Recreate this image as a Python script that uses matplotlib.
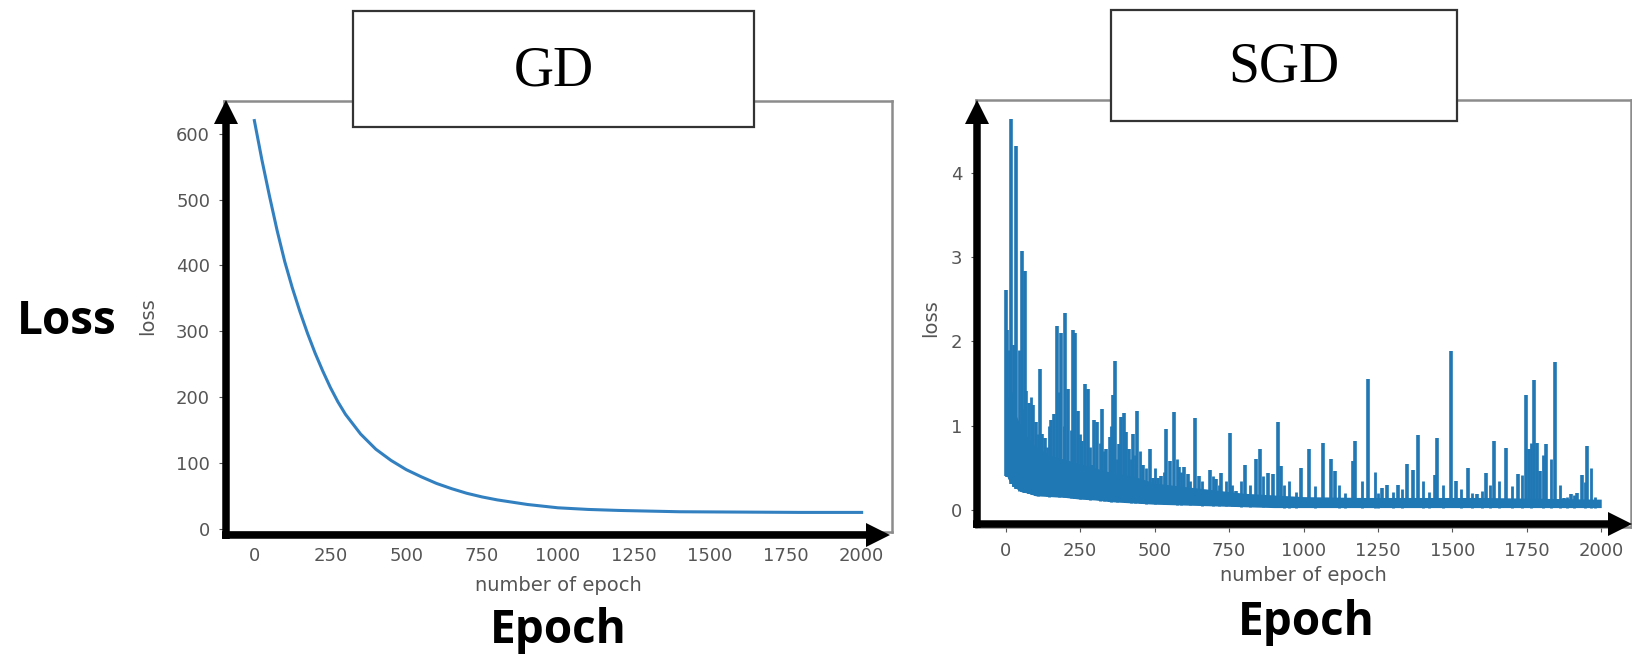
import numpy as np
import matplotlib.pyplot as plt
from matplotlib.patches import FancyArrow, Rectangle

# full-batch gradient descent loss
gd_epochs = [0, 25, 50, 75, 100, 125, 150, 175, 200, 225, 250, 275, 300, 350,
             400, 450, 500, 550, 600, 650, 700, 750, 800, 900, 1000, 1100, 1200,
             1300, 1400, 1600, 1800, 2000]
gd_loss = [620, 560, 505, 453, 406, 366, 330, 297, 267, 240, 215, 193, 174, 144,
           121, 104, 90, 79, 69, 61, 54, 48.5, 44, 37, 32, 29.5, 28,
           27, 26, 25.5, 25, 25]

# stochastic gradient descent: dense noisy band ...
sgd_band_epochs = [0, 25, 50, 75, 100, 150, 200, 250, 300, 350, 400, 450, 500,
                   600, 700, 800, 900, 1000, 1200, 1400, 1600, 1800, 2000]
sgd_band_low = [0.42, 0.28, 0.22, 0.2, 0.17, 0.16, 0.15, 0.13, 0.12, 0.1, 0.09,
                0.08, 0.07, 0.06, 0.05, 0.04, 0.03, 0.03, 0.03, 0.03, 0.03, 0.03, 0.03]
sgd_band_high = [1.4, 1.2, 1.0, 0.85, 0.75, 0.65, 0.6, 0.55, 0.5, 0.45, 0.42,
                 0.38, 0.32, 0.28, 0.24, 0.2, 0.18, 0.16, 0.15, 0.15, 0.15, 0.14, 0.13]

# ... the big spikes sticking out of it
sgd_spike_epochs = [2, 5, 19, 28, 36, 54, 64, 69, 78, 91, 100, 114, 123, 133, 153, 162,
                    173, 187, 200, 209, 226, 234, 242, 257, 267, 276, 288, 296, 308,
                    323, 338, 349, 360, 366, 379, 388, 396, 405, 413, 427, 442, 460,
                    483, 494, 510, 522, 539, 550, 564, 581, 597, 611, 636, 648, 685,
                    705, 724, 752, 774, 804, 841, 855, 880, 897, 913, 925, 993, 1017,
                    1067, 1094, 1107, 1165, 1174, 1218, 1265, 1282, 1316, 1349, 1369,
                    1386, 1440, 1450, 1497, 1513, 1554, 1584, 1613, 1641, 1681, 1722,
                    1748, 1758, 1775, 1785, 1795, 1815, 1846, 1876, 1899, 1920, 1936, 1953]
sgd_spike_loss = [2.61, 2.14, 4.63, 1.96, 4.31, 3.07, 2.83, 1.41, 1.27, 1.25, 1.05, 1.67,
                  0.9, 0.85, 1.07, 1.14, 2.18, 2.1, 2.33, 1.43, 2.13, 2.1, 1.17, 0.82,
                  1.5, 1.44, 0.54, 1.07, 1.05, 1.2, 0.73, 0.87, 1.37, 1.77, 0.78, 1.1,
                  1.15, 0.93, 0.73, 0.9, 1.18, 0.54, 0.72, 0.38, 0.38, 0.4, 0.96, 0.58,
                  1.16, 0.51, 0.51, 0.43, 1.09, 0.4, 0.48, 0.37, 0.44, 0.91, 0.23, 0.54,
                  0.61, 0.72, 0.44, 0.43, 1.05, 0.52, 0.5, 0.73, 0.79, 0.6, 0.46, 0.58,
                  0.82, 1.55, 0.26, 0.3, 0.3, 0.55, 0.48, 0.89, 0.42, 0.86, 1.88, 0.34,
                  0.5, 0.19, 0.44, 0.82, 0.74, 0.43, 1.36, 0.72, 1.54, 0.79, 0.46, 0.78,
                  1.76, 0.14, 0.19, 0.2, 0.42, 0.76]

# ... and the smaller ones filling the ragged top of the band
sgd_minor_epochs = [10, 14, 24, 45, 58, 84, 107, 140, 146, 180, 195, 218, 250, 283,
                    315, 330, 355, 372, 420, 435, 450, 470, 500, 530, 575, 590, 620,
                    660, 695, 715, 740, 760, 790, 820, 865, 935, 950, 975, 1040, 1120,
                    1140, 1195, 1240, 1250, 1300, 1330, 1400, 1420, 1470, 1530, 1565,
                    1600, 1625, 1655, 1700, 1735, 1765, 1805, 1830, 1860, 1885, 1910,
                    1945, 1965, 1980]
sgd_minor_loss = [1.9, 1.2, 1.4, 1.9, 1.2, 1.34, 0.9, 0.75, 1.0, 1.4, 1.0, 0.95, 0.9,
                  0.75, 0.8, 0.7, 1.0, 0.6, 0.6, 0.65, 0.7, 0.5, 0.5, 0.45, 0.6, 0.45,
                  0.35, 0.35, 0.4, 0.3, 0.35, 0.3, 0.35, 0.3, 0.4, 0.3, 0.35, 0.22,
                  0.28, 0.3, 0.2, 0.35, 0.45, 0.2, 0.22, 0.25, 0.35, 0.22, 0.3, 0.25,
                  0.2, 0.23, 0.3, 0.35, 0.28, 0.42, 0.8, 0.65, 0.6, 0.3, 0.15, 0.18,
                  0.33, 0.5, 0.15]

epoch_ticks = [0, 250, 500, 750, 1000, 1250, 1500, 1750, 2000]
gd_ticks = [0, 100, 200, 300, 400, 500, 600]
sgd_ticks = [0, 1, 2, 3, 4]

W, H = 1632, 655
BLUE = '#1f77b4'
GREY = '#555555'

fig = plt.figure(figsize=(W / 100, H / 100), dpi=100)
fig.patch.set_facecolor('white')


def style(ax, yticks, label_x, label_y, xlabel_y):
    ax.set_xticks(epoch_ticks)
    ax.set_yticks(yticks)
    ax.tick_params(colors=GREY, labelsize=13, length=3.5)
    ax.tick_params(axis='x', pad=7)
    ax.tick_params(axis='y', pad=6.5)
    for s in ax.spines.values():
        s.set_color('#8c8c8c')
        s.set_linewidth(1.8)
    ax.set_ylabel('loss', color=GREY, fontsize=14)
    ax.set_xlabel('number of epoch', color=GREY, fontsize=14)
    ax.yaxis.set_label_coords(label_x, label_y)
    ax.xaxis.set_label_coords(0.5, xlabel_y)


# left panel: GD
ax1 = fig.add_axes([224 / W, 1 - 532 / H, 668 / W, 431 / H])
ax1.plot(gd_epochs, gd_loss, color='#3380c0', lw=2.2)
style(ax1, gd_ticks, -0.100, 0.5, -0.101)

# right panel: SGD
ax2 = fig.add_axes([976 / W, 1 - 527 / H, 655 / W, 427 / H])
ax2.fill_between(sgd_band_epochs, sgd_band_low, sgd_band_high, color=BLUE, lw=0)
for ep, val, lw in [(sgd_spike_epochs, sgd_spike_loss, 2.6),
                    (sgd_minor_epochs, sgd_minor_loss, 2.0)]:
    base = np.interp(ep, sgd_band_epochs, sgd_band_low)
    ax2.vlines(ep, base, val, color=BLUE, lw=lw)
style(ax2, sgd_ticks, -0.055, 0.49, -0.091)

# overlay in pixel units for the arrows, title boxes and big labels
ov = fig.add_axes([0, 0, 1, 1], zorder=10)
ov.set_xlim(0, W)
ov.set_ylim(H, 0)
ov.axis('off')
ov.patch.set_alpha(0)

arrow_kw = dict(width=7.5, head_width=24, head_length=24,
                length_includes_head=True, color='black', lw=0)
ov.add_patch(FancyArrow(226, 539, 0, 100 - 539, **arrow_kw))
ov.add_patch(FancyArrow(222, 535, 890 - 222, 0, **arrow_kw))
ov.add_patch(FancyArrow(977, 528, 0, 100 - 528, **arrow_kw))
ov.add_patch(FancyArrow(973, 524, W - 973, 0, **arrow_kw))

for (x0, x1, y0, y1, title) in [(353, 754, 11, 127, 'GD'), (1111, 1457, 10, 121, 'SGD')]:
    ov.add_patch(Rectangle((x0, y0), x1 - x0, y1 - y0, facecolor='white',
                           edgecolor='#333333', lw=1.6))
    ov.text((x0 + x1) / 2, (y0 + y1) / 2 + 2, title, family='Liberation Serif',
            fontsize=40, ha='center', va='center', color='black')

big = dict(family='Open Sans', weight='bold', fontsize=33, ha='center', va='center')
ov.text(67, 321, 'Loss', **big)
ov.text(558, 630, 'Epoch', **big)
ov.text(1306, 622, 'Epoch', **big)

fig.savefig('out.png', dpi=100)
